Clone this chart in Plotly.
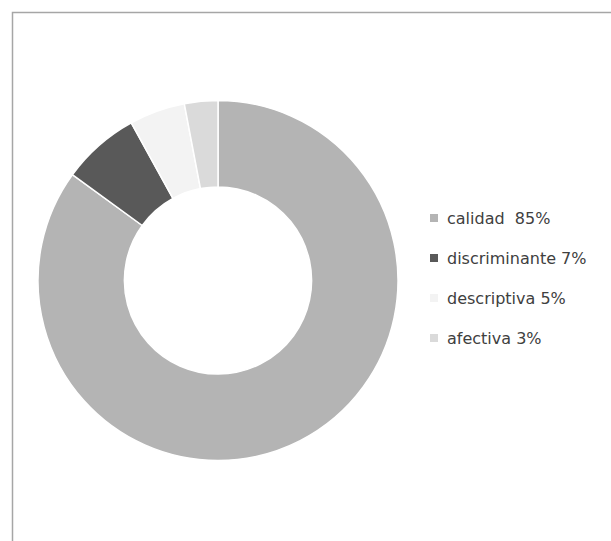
import plotly.graph_objects as go

labels = ["calidad", "discriminante", "descriptiva", "afectiva"]
values = [85, 7, 5, 3]
legend_text = ["calidad  85%", "discriminante 7%", "descriptiva 5%", "afectiva 3%"]
colors = ["#b4b4b4", "#595959", "#f3f3f3", "#dadada"]

W, H = 611, 541

fig = go.Figure()
fig.add_trace(go.Pie(
    labels=labels, values=values, sort=False, direction="clockwise", rotation=0,
    hole=0.52, textinfo="none", hoverinfo="label+percent",
    marker=dict(colors=colors, line=dict(color="#ffffff", width=1.5)),
    domain=dict(x=[38 / W, 398 / W], y=[1 - 461 / H, 1 - 100 / H]),
    showlegend=False,
))

shapes = [dict(type="rect", xref="paper", yref="paper",
               x0=12.5 / W, x1=1.05, y0=-0.05, y1=1 - 12.5 / H,
               line=dict(color="#a6a6a6", width=1.5), fillcolor="rgba(0,0,0,0)")]
annotations = []
y0, dy = 218, 40
for i, (txt, c) in enumerate(zip(legend_text, colors)):
    yc = y0 + i * dy
    shapes.append(dict(type="rect", xref="paper", yref="paper",
                       x0=430 / W, x1=438 / W, y0=1 - (yc + 4) / H, y1=1 - (yc - 4) / H,
                       line=dict(width=0), fillcolor=c))
    annotations.append(dict(text=txt, xref="paper", yref="paper", x=445 / W, y=1 - yc / H,
                            xanchor="left", yanchor="middle", showarrow=False,
                            font=dict(family="DejaVu Sans", size=16, color="#404040")))

fig.update_layout(width=W, height=H, margin=dict(l=0, r=0, t=0, b=0),
                  paper_bgcolor="white", plot_bgcolor="white",
                  shapes=shapes, annotations=annotations)
fig.write_html("out.html", config={"displayModeBar": False},
               post_script="document.body.style.margin='0';document.body.style.overflow='hidden';")
